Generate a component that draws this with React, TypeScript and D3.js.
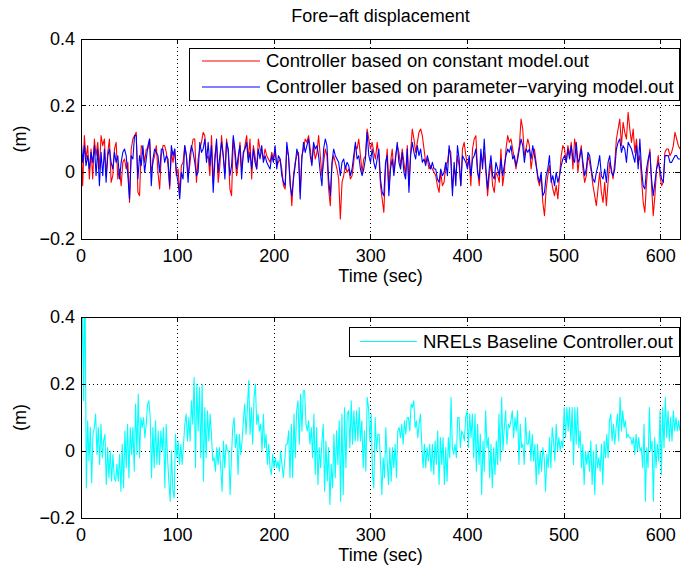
import React from 'react';
import * as d3 from 'd3';

// ---------- data ----------
const T_END = 620;
const xTicks = [0, 100, 200, 300, 400, 500, 600];
const yTicks = [-0.2, 0, 0.2, 0.4];
const titleText = 'Fore\u2212aft displacement';
const xLabel = 'Time (sec)';
const yLabel = '(m)';
const legendTop = ['Controller based on constant model.out', 'Controller based on parameter\u2212varying model.out'];
const legendBottom = ['NRELs Baseline Controller.out'];

// Controller based on constant model (red), evenly sampled over 0..620 s
const constantModel = [
  0.11, -0.04, 0.11, 0.04, 0.08, -0.02, 0.07, -0.02, 0.10, 0.05,
  0.09, 0.01, 0.11, 0.08, 0.10, -0.01, 0.06, 0.10, -0.03, -0.01,
  0.07, 0.09, -0.02, 0.01, -0.04, 0.03, 0.04, 0.01, 0.03, -0.09,
  0.07, 0.10, 0.11, 0.12, -0.06, -0.07, 0.08, 0.07, 0.03, 0.07,
  0.07, 0.10, 0.0, 0.03, 0.05, 0.08, 0.0, -0.05, 0.05, 0.08,
  0.08, 0.06, 0.02, -0.05, 0.06, 0.03, 0.07, -0.01, 0.01, -0.06,
  0.02, 0.03, 0.08, 0.05, -0.01, 0.02, 0.07, 0.10, 0.10, -0.03,
  0.04, 0.07, 0.09, 0.12, 0.11, 0.04, 0.05, -0.01, 0.11, -0.03,
  0.05, 0.09, -0.03, 0.02, 0.11, 0.05, 0.0, 0.10, 0.06, -0.05,
  -0.07, 0.10, 0.05, -0.01, 0.03, 0.09, 0.01, 0.05, 0.08, 0.11,
  0.04, 0.10, -0.02, 0.08, 0.05, 0.01, 0.10, 0.07, 0.06, 0.04,
  0.07, 0.05, 0.04, 0.03, 0.06, 0.04, 0.07, 0.02, 0.03, 0.04,
  0.01, -0.04, -0.05, 0.07, 0.05, -0.02, -0.10, -0.01, 0.03, 0.05,
  0.06, -0.06, 0.05, 0.07, 0.10, 0.09, 0.11, 0.07, 0.03, 0.08,
  0.04, 0.06, 0.11, 0.05, -0.01, 0.03, 0.07, 0.05, -0.05, -0.10,
  0.02, 0.05, 0.03, 0.01, -0.02, -0.14, -0.03, -0.01, 0.02, 0.0,
  0.01, -0.02, -0.01, 0.03, 0.08, 0.07, 0.10, 0.05, 0.0, 0.04,
  0.05, 0.13, 0.10, 0.07, 0.09, 0.06, 0.04, 0.09, 0.05, -0.04,
  -0.08, -0.12, 0.01, 0.07, -0.05,
  0.03, 0.07, 0.0, 0.05, 0.08, 0.06, 0.02, 0.07, 0.03, -0.01,
  0.08, -0.04, 0.06, 0.13, 0.10, 0.06, 0.09, 0.12, 0.13, 0.11,
  0.07, 0.03, 0.04, 0.01, 0.02, 0.01, 0.0, -0.01, -0.04, -0.06,
  0.0, -0.04, -0.03, 0.02, 0.03, 0.07, 0.06, -0.05, 0.01, -0.01,
  0.05, 0.02, -0.04, 0.07, 0.09, 0.05, 0.02, 0.04, -0.04, 0.07,
  0.10, 0.11, 0.01, -0.04, 0.05, 0.03, 0.06, 0.0, -0.07, -0.01,
  0.03, -0.04, -0.06, 0.0, -0.01, -0.03, 0.07, -0.04, 0.0, 0.07,
  0.11, 0.09, 0.10, 0.07, 0.04, 0.01, 0.05, 0.08, 0.16, 0.13,
  0.05, 0.07, 0.10, 0.08, 0.01, 0.05, 0.07, 0.03, -0.02, -0.04,
  -0.01, -0.09, -0.13, -0.05, -0.01, 0.02, -0.02, -0.05, -0.07, -0.04,
  -0.08, -0.01, 0.05, 0.08, 0.07, 0.03, 0.08, 0.05, 0.09, 0.01,
  0.10, 0.07, 0.0, 0.05, 0.08, 0.01, -0.03, -0.01, 0.05, 0.03,
  0.0, -0.04, -0.07, -0.10, -0.05, 0.0, -0.06, -0.09, -0.03, -0.10,
  -0.03, 0.03, 0.01, -0.02, 0.03, 0.10, 0.13, 0.16, 0.08, 0.15,
  0.12, 0.10, 0.18, 0.13, 0.09, 0.13, 0.06, 0.10, 0.03, 0.05,
  -0.02, -0.09, -0.12, -0.03, 0.03, 0.07, -0.04, -0.13, -0.07, 0.01,
  0.05, -0.01, -0.04, -0.03, 0.06, 0.07, 0.07, 0.05, 0.06, 0.08,
  0.12, 0.10, 0.08, 0.07,
];

// Controller based on parameter-varying model (blue)
const varyingModel = [
  0.11, 0.03, 0.08, 0.02, 0.05, 0.01, 0.06, 0.03, 0.08, -0.01,
  0.07, -0.04, 0.06, -0.01, 0.07, -0.03, 0.05, 0.07, 0.03, 0.01,
  0.06, 0.03, 0.05, -0.02, 0.03, 0.06, 0.07, 0.05, -0.01, -0.08,
  0.05, 0.04, 0.11, 0.11, -0.02, 0.05, 0.02, 0.08, 0.0, 0.04,
  0.08, 0.10, -0.04, 0.04, 0.07, 0.06, 0.05, 0.0, 0.07, 0.07,
  0.03, 0.05, 0.04, -0.04, 0.08, 0.05, 0.07, 0.0, -0.03, -0.08,
  0.0, -0.02, 0.08, 0.05, -0.03, 0.05, 0.08, 0.06, 0.03, -0.01,
  0.0, 0.09, 0.06, 0.07, 0.10, 0.03, 0.09, 0.02, 0.08, -0.06,
  0.03, 0.10, 0.0, 0.05, 0.09, 0.05, -0.02, 0.09, 0.07, -0.01,
  0.02, 0.11, 0.07, 0.01, 0.05, 0.08, -0.02, 0.06, 0.07, 0.09,
  0.03, 0.06, 0.01, 0.07, 0.03, 0.01, 0.07, 0.04, 0.08, 0.03,
  0.05, 0.03, 0.02, 0.01, 0.05, 0.03, 0.08, 0.01, 0.05, 0.04,
  -0.01, -0.03, -0.04, 0.09, 0.05, -0.04, -0.07, -0.02, 0.02, 0.07,
  0.05, -0.08, 0.04, 0.09, 0.06, 0.08, 0.10, 0.05, 0.02, 0.09,
  0.07, 0.08, 0.05, 0.0, -0.04, 0.07, 0.10, 0.08, -0.02, -0.07,
  0.03, 0.07, 0.05, 0.04, 0.03, -0.01, 0.03, 0.04, 0.01, 0.03,
  0.02, -0.01, 0.01, 0.05, 0.09, 0.04, 0.05, 0.01, -0.01, 0.01,
  0.04, 0.12, 0.05, 0.03, 0.07, 0.03, 0.01, 0.04, 0.07, -0.02,
  -0.06, -0.07, 0.03, 0.05, -0.07,
  0.01, 0.04, -0.01, 0.04, 0.09, 0.03, 0.01, 0.06, 0.0, -0.02,
  0.07, -0.06, 0.05, 0.09, 0.06, 0.04, 0.08, 0.05, 0.07, 0.03,
  0.04, 0.02, 0.05, 0.03, 0.01, 0.03, 0.01, 0.01, -0.02, -0.03,
  0.01, -0.01, 0.0, 0.03, -0.01, 0.08, 0.04, -0.07, 0.03, -0.04,
  0.08, 0.04, -0.04, 0.05, 0.04, 0.03, 0.01, 0.05, -0.01, 0.04,
  0.05, 0.07, 0.0, -0.02, 0.07, 0.01, 0.10, 0.01, -0.05, 0.01,
  0.05, -0.01, -0.02, 0.03, 0.01, -0.01, 0.04, -0.01, 0.02, 0.05,
  0.07, 0.06, 0.08, 0.04, 0.05, 0.02, 0.04, 0.07, 0.10, 0.08,
  0.03, 0.07, 0.06, 0.07, 0.04, 0.08, 0.05, 0.02, -0.01, -0.03,
  0.0, -0.07, -0.06, -0.01, 0.01, 0.05, -0.03, -0.01, -0.04, 0.0,
  -0.03, -0.01, 0.02, 0.04, 0.05, 0.03, 0.07, 0.04, 0.08, 0.04,
  0.03, 0.09, 0.03, 0.04, 0.07, 0.03, -0.01, 0.01, 0.06, 0.05,
  0.01, -0.02, -0.03, 0.0, 0.02, 0.05, -0.01, -0.02, 0.01, -0.03,
  0.03, 0.05, 0.0, -0.01, 0.01, 0.07, 0.09, 0.10, 0.06, 0.08,
  0.07, 0.03, 0.09, 0.08, 0.07, 0.05, 0.03, 0.08, 0.01, 0.10,
  0.01, -0.04, -0.05, 0.01, 0.04, 0.06, -0.02, -0.07, -0.03, 0.01,
  0.03, 0.01, -0.02, -0.03, 0.05, 0.05, 0.05, 0.03, 0.03, 0.04,
  0.05, 0.05, 0.04, 0.04,
];

// NRELs Baseline Controller (cyan)
const baselineController = [
  0.05, 0.5, 0.15, 0.5, -0.11,
  0.09, -0.03, 0.07, -0.095, 0.05, 0.07, 0.11, -0.01, 0.07, -0.04,
  0.08, -0.02, 0.03, 0.05, -0.10, 0.01, -0.08, 0.0, -0.09, -0.01,
  -0.08, -0.09, -0.04, -0.09, -0.01, -0.12, 0.02, -0.11, 0.06, -0.05,
  0.08, -0.08, 0.07, -0.01, 0.07, -0.06, 0.14, -0.01, 0.17, -0.02,
  0.10, 0.07, 0.10, 0.04, 0.08, 0.14, 0.15, 0.10, -0.08, 0.07,
  -0.05, 0.09, -0.04, 0.06, -0.04, 0.06, 0.0, 0.07, -0.11, 0.08,
  -0.02, -0.09, -0.15, 0.0, -0.12, -0.14, 0.05, -0.02, 0.03, -0.04,
  0.02, -0.04, 0.02, 0.08, 0.11, 0.03, 0.10, 0.03, 0.15, 0.08,
  0.22, -0.05, 0.20, 0.06, 0.19, -0.02, 0.20, -0.09, 0.13, -0.02,
  0.12, 0.03, 0.11, 0.05, -0.03, -0.02, -0.06, 0.01, -0.04, 0.01,
  -0.05, -0.12, 0.03, -0.05, 0.02, 0.0,
  0.0, -0.13, -0.02, 0.07, 0.10, 0.01, 0.05, -0.07, 0.05, -0.01,
  0.03, 0.09, 0.14, 0.05, 0.13, 0.21, 0.05, 0.13, 0.02, 0.16,
  0.20, 0.08, 0.11, 0.06, 0.08, 0.0, 0.11, 0.01, 0.05, -0.04,
  0.02, -0.05, -0.07, -0.01, -0.05, -0.02, -0.05, -0.03, -0.06, 0.0,
  -0.04, -0.08, -0.03, 0.02, 0.02, 0.06, -0.08, 0.08, -0.08, 0.11,
  -0.02, 0.12, 0.15, 0.02, 0.17, 0.06, 0.18, 0.18, 0.08, 0.06,
  0.09, 0.02, 0.07, -0.02, 0.11, -0.07, 0.07, -0.10, 0.01, -0.05,
  0.03, 0.08, -0.12, 0.03, -0.09, 0.01, -0.16, -0.04, -0.11, 0.05,
  -0.08, 0.06, -0.04, 0.09, -0.15, 0.11, -0.13, 0.13, -0.05, 0.11,
  0.12, 0.01, 0.15, 0.02, 0.12, 0.03, 0.12, 0.03, 0.13, 0.03,
  0.09, -0.05, 0.06, -0.06, 0.16, 0.13, 0.03, 0.11, -0.07, -0.11,
  0.10, 0.0, 0.05,
  0.05, -0.03, -0.13, -0.02, -0.08, 0.07, -0.03, -0.10, 0.01, -0.09,
  0.01, -0.05, 0.02, -0.08, 0.06, 0.07, 0.04, 0.08, 0.02, 0.09,
  0.05, 0.10, 0.10, 0.06, 0.14, 0.13, 0.15, 0.07, 0.09, 0.04,
  0.08, 0.11, 0.02, -0.05, 0.02, -0.05, 0.01, -0.03, 0.02, -0.06,
  0.02, -0.07, 0.03, -0.04, 0.06, -0.10, 0.04, -0.04, 0.04, -0.10,
  0.01, -0.09, 0.04, -0.02, 0.16, 0.01, -0.01, 0.02, -0.02, 0.10,
  0.10, 0.01, 0.06, 0.05, 0.03, 0.10, 0.12, 0.01, 0.11, 0.04,
  0.11, -0.02, 0.11, -0.06, 0.08, -0.04, 0.05, -0.13, 0.03, -0.06,
  0.12, 0.01, 0.04, -0.08, 0.02, -0.11, 0.01, -0.07, 0.03, -0.04,
  0.11, -0.03, 0.16, 0.0, 0.07, 0.12, 0.02, 0.08, 0.07, 0.09,
  0.12, 0.04, 0.10, 0.06, 0.12, -0.04, 0.08, 0.01, 0.02, -0.04,
  0.10, 0.02, 0.02,
  0.06, -0.03, 0.05, -0.03, 0.02, -0.10, 0.02, -0.07, 0.0, -0.06,
  0.01, -0.02, -0.12, -0.01, -0.05, 0.04, -0.05, 0.07, 0.03, -0.03,
  0.08, 0.0, 0.04, 0.0, 0.03, 0.01, 0.13, 0.04, 0.13, 0.06,
  0.13, 0.03, 0.13, -0.04, 0.13, 0.02, 0.13, 0.01, 0.06, -0.05,
  0.02, -0.10, 0.0, -0.04, 0.0, -0.06, 0.03, -0.10, 0.0, -0.13,
  0.02, -0.05, -0.02, -0.06, 0.02, -0.10, 0.03, -0.02, 0.05, -0.02,
  0.09, 0.11, 0.03, 0.08, 0.02, 0.07, 0.11, 0.03, 0.16, 0.06,
  0.12, 0.07, 0.09, 0.04, 0.05, 0.04, 0.04, 0.02, 0.04, -0.01,
  0.05, 0.0, 0.04, 0.0, 0.01, -0.05, 0.08, -0.15, 0.01, -0.05,
  0.13, 0.0, 0.03, -0.15, 0.04, -0.05, 0.02, -0.03, 0.12, -0.07,
  0.13, 0.01, 0.16, 0.04, 0.12, 0.03, 0.10, 0.03, 0.12, 0.06,
  0.10, 0.06, 0.09, 0.06,
];

// ---------- layout ----------
const W = 681;
const H = 565;
const LEFT = 81;
const RIGHT = 680;
const FS = 18;
const LEG_FS = 18.5;
const FONT = "'Liberation Sans', Arial, Helvetica, sans-serif";
const fmt = (v: number) => (v < 0 ? '\u2212' : '') + String(Math.abs(v));

type Series = { values: number[]; color: string };

function Panel(props: {
  id: string;
  top: number;
  bottom: number;
  series: Series[];
  title?: string;
  legend: { labels: string[]; colors: string[]; x0: number; y0: number; x1: number; y1: number; lineX0: number; lineX1: number; textX: number };
}) {
  const { id, top, bottom, series, title, legend } = props;
  const x = d3.scaleLinear().domain([0, T_END]).range([LEFT, RIGHT]);
  const y = d3.scaleLinear().domain([-0.2, 0.4]).range([bottom, top]);
  const tick = 5;
  const rowH = (legend.y1 - legend.y0) / legend.labels.length;
  return (
    <g>
      <defs>
        <clipPath id={id}>
          <rect x={LEFT} y={top} width={RIGHT - LEFT} height={bottom - top} />
        </clipPath>
      </defs>
      <rect x={LEFT} y={top} width={RIGHT - LEFT} height={bottom - top} fill="#fff" />
      {/* grid */}
      {xTicks.filter((t) => t > 0 && t < T_END).map((t) => (
        <line key={'gx' + t} x1={x(t)} x2={x(t)} y1={top} y2={bottom} stroke="#000" strokeWidth={1} strokeDasharray="1,3" shapeRendering="crispEdges" />
      ))}
      {yTicks.filter((t) => t > -0.2 && t < 0.4).map((t) => (
        <line key={'gy' + t} x1={LEFT} x2={RIGHT} y1={y(t)} y2={y(t)} stroke="#000" strokeWidth={1} strokeDasharray="1,3" shapeRendering="crispEdges" />
      ))}
      {/* data */}
      <g clipPath={`url(#${id})`}>
        {series.map((s, k) => {
          const n = s.values.length;
          const line = d3
            .line<number>()
            .x((_, i) => x((i * T_END) / (n - 1)))
            .y((v) => y(v));
          return <path key={k} d={line(s.values) || ''} fill="none" stroke={s.color} strokeWidth={1.1} strokeLinejoin="round" />;
        })}
      </g>
      {/* ticks */}
      {xTicks.map((t) => (
        <g key={'tx' + t}>
          <line x1={x(t)} x2={x(t)} y1={bottom} y2={bottom - tick} stroke="#000" shapeRendering="crispEdges" />
          <line x1={x(t)} x2={x(t)} y1={top} y2={top + tick} stroke="#000" shapeRendering="crispEdges" />
          <text x={x(t)} y={bottom + 23} textAnchor="middle" fontSize={FS} fontFamily={FONT} fill="#000">
            {t}
          </text>
        </g>
      ))}
      {yTicks.map((t) => (
        <g key={'ty' + t}>
          <line x1={LEFT} x2={LEFT + tick} y1={y(t)} y2={y(t)} stroke="#000" shapeRendering="crispEdges" />
          <line x1={RIGHT} x2={RIGHT - tick} y1={y(t)} y2={y(t)} stroke="#000" shapeRendering="crispEdges" />
          <text x={75} y={y(t) + 6} textAnchor="end" fontSize={FS} fontFamily={FONT} fill="#000">
            {fmt(t)}
          </text>
        </g>
      ))}
      <rect x={LEFT} y={top} width={RIGHT - LEFT} height={bottom - top} fill="none" stroke="#000" strokeWidth={1} shapeRendering="crispEdges" />
      {/* labels */}
      {title && (
        <text x={(LEFT + RIGHT) / 2} y={top - 17} textAnchor="middle" fontSize={FS} fontFamily={FONT} fill="#000">
          {title}
        </text>
      )}
      <text x={(LEFT + RIGHT) / 2} y={bottom + 43} textAnchor="middle" fontSize={FS} fontFamily={FONT} fill="#000">
        {xLabel}
      </text>
      <text transform={`translate(26,${(top + bottom) / 2}) rotate(-90)`} textAnchor="middle" fontSize={FS} fontFamily={FONT} fill="#000">
        {yLabel}
      </text>
      {/* legend */}
      <rect x={legend.x0} y={legend.y0} width={legend.x1 - legend.x0} height={legend.y1 - legend.y0} fill="#fff" stroke="#000" strokeWidth={1} shapeRendering="crispEdges" />
      {legend.labels.map((lab, i) => {
        const cy = legend.y0 + rowH * (i + 0.5);
        return (
          <g key={lab}>
            <line x1={legend.lineX0} x2={legend.lineX1} y1={cy} y2={cy} stroke={legend.colors[i]} strokeWidth={1.1} />
            <text x={legend.textX} y={cy + 6} fontSize={LEG_FS} fontFamily={FONT} fill="#000">
              {lab}
            </text>
          </g>
        );
      })}
    </g>
  );
}

export default function App() {
  return (
    <svg width={W} height={H} style={{ position: 'absolute', left: 0, top: 0, background: '#fff' }}>
      <rect x={0} y={0} width={W} height={H} fill="#fff" />
      <Panel
        id="clipTop"
        top={39}
        bottom={239}
        title={titleText}
        series={[
          { values: constantModel, color: '#ff0000' },
          { values: varyingModel, color: '#0000ff' },
        ]}
        legend={{ labels: legendTop, colors: ['#ff0000', '#0000ff'], x0: 189, y0: 48, x1: 679, y1: 100, lineX0: 202, lineX1: 260, textX: 266 }}
      />
      <Panel
        id="clipBottom"
        top={317}
        bottom={518}
        series={[{ values: baselineController, color: '#00ffff' }]}
        legend={{ labels: legendBottom, colors: ['#00ffff'], x0: 349, y0: 327, x1: 679, y1: 356, lineX0: 360, lineX1: 417, textX: 423 }}
      />
    </svg>
  );
}
